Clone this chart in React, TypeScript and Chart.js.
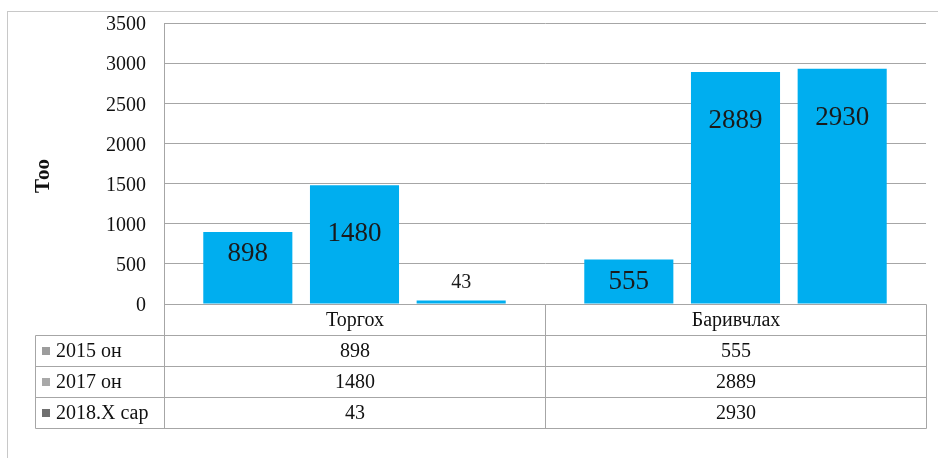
import React, { useEffect, useRef } from "react";
import { Chart, registerables } from "chart.js";

Chart.register(...registerables);

const categories = ["Торгох", "Баривчлах"];
const seriesNames = ["2015 он", "2017 он", "2018.X сар"];
const values2015 = [898, 555];
const values2017 = [1480, 2889];
const values2018 = [43, 2930];
const seriesValues = [values2015, values2017, values2018];
const yMax = 3500;
const yStep = 500;
const axisTitle = "Тоо";

const BAR_COLOR = "#00AEEF";
const KEY_COLORS = ["#9c9c9c", "#a8a8a8", "#6f6f6f"];
const GRID = "#a6a6a6";
const SERIF = "'Liberation Serif', 'Times New Roman', serif";

const overlayPlugin = {
  id: "overlay",
  beforeDraw(chart: any) {
    const ctx = chart.ctx;
    ctx.save();
    ctx.fillStyle = "#ffffff";
    ctx.fillRect(0, 0, chart.width, chart.height);
    ctx.strokeStyle = "#c8c8c8";
    ctx.lineWidth = 1;
    ctx.strokeRect(7.5, 11.5, chart.width + 20, chart.height + 20);
    ctx.restore();
  },
  afterDraw(chart: any) {
    const ctx = chart.ctx;
    const area = chart.chartArea;
    const left = Math.round(area.left) + 0.5;
    const right = Math.round(area.right) + 0.5;
    const mid = Math.round((area.left + area.right) / 2) + 0.5;
    const rowH = 31;
    const top = Math.round(area.bottom) + 0.5;
    const rows = [0, 1, 2, 3, 4].map((i) => Math.round(area.bottom + i * rowH) + 0.5);
    const tableLeft = 35.5;
    ctx.save();
    ctx.strokeStyle = GRID;
    ctx.lineWidth = 1;
    ctx.beginPath();
    ctx.moveTo(left, top);
    ctx.lineTo(right, top);
    for (let i = 1; i < rows.length; i++) {
      ctx.moveTo(tableLeft, rows[i]);
      ctx.lineTo(right, rows[i]);
    }
    [left, mid, right].forEach((x) => {
      ctx.moveTo(x, top);
      ctx.lineTo(x, rows[4]);
    });
    ctx.moveTo(tableLeft, rows[1]);
    ctx.lineTo(tableLeft, rows[4]);
    ctx.stroke();

    ctx.fillStyle = "#111";
    ctx.font = `20px ${SERIF}`;
    ctx.textBaseline = "middle";
    ctx.textAlign = "center";
    const cx = [(left + mid) / 2, (mid + right) / 2];
    categories.forEach((c, i) => ctx.fillText(c, cx[i], (rows[0] + rows[1]) / 2 + 1));
    seriesNames.forEach((name, s) => {
      const yc = (rows[s + 1] + rows[s + 2]) / 2 + 1;
      seriesValues[s].forEach((v, i) => ctx.fillText(String(v), cx[i], yc));
      ctx.fillStyle = KEY_COLORS[s];
      ctx.fillRect(42, Math.round(yc - 5), 8, 8);
      ctx.fillStyle = "#111";
      ctx.textAlign = "left";
      ctx.fillText(name, 56, yc);
      ctx.textAlign = "center";
    });

    ctx.save();
    ctx.translate(44, 176);
    ctx.rotate(-Math.PI / 2);
    ctx.font = `bold 21px ${SERIF}`;
    ctx.textAlign = "center";
    ctx.textBaseline = "middle";
    ctx.fillStyle = "#111";
    ctx.fillText(axisTitle, 0, 0);
    ctx.restore();

    chart.data.datasets.forEach((ds: any, di: number) => {
      const meta = chart.getDatasetMeta(di);
      meta.data.forEach((bar: any, i: number) => {
        const v = ds.data[i];
        const h = bar.base - bar.y;
        ctx.fillStyle = "#1a1a1a";
        ctx.textAlign = "center";
        ctx.textBaseline = "middle";
        if (h > 30) {
          ctx.font = `27px ${SERIF}`;
          const off = h < 100 ? 22 : 49;
          ctx.fillText(String(v), bar.x, bar.y + off);
        } else {
          ctx.font = `20px ${SERIF}`;
          ctx.fillText(String(v), bar.x, bar.y - 18);
        }
      });
    });
    ctx.restore();
  },
};

export default function App() {
  const ref = useRef<HTMLCanvasElement | null>(null);
  useEffect(() => {
    if (!ref.current) return;
    const chart = new Chart(ref.current, {
      type: "bar",
      data: {
        labels: categories,
        datasets: seriesNames.map((name, s) => ({
          label: name,
          data: seriesValues[s],
          backgroundColor: BAR_COLOR,
          borderWidth: 0,
          categoryPercentage: 0.84,
          barPercentage: 0.835,
        })),
      },
      options: {
        animation: false,
        responsive: false,
        devicePixelRatio: 1,
        layout: { padding: { left: 0, top: 23, right: 12, bottom: 154 } },
        plugins: { legend: { display: false }, tooltip: { enabled: false }, title: { display: false } },
        scales: {
          x: { display: false },
          y: {
            min: 0,
            max: yMax,
            ticks: {
              stepSize: yStep,
              color: "#111",
              padding: 0,
              labelOffset: 2,
              font: { family: SERIF, size: 20 },
              callback: (v: any) => String(v),
            },
            grid: { color: GRID, drawTicks: true, tickLength: 18, tickColor: "rgba(0,0,0,0)", lineWidth: 1 },
            border: { display: true, color: GRID },
            afterFit: (s: any) => {
              s.width = 164;
            },
          },
        },
      },
      plugins: [overlayPlugin],
    } as any);
    return () => chart.destroy();
  }, []);
  return (
    <div style={{ position: "absolute", left: 0, top: 0, width: 938, height: 458 }}>
      <canvas ref={ref} width={938} height={458} />
    </div>
  );
}
